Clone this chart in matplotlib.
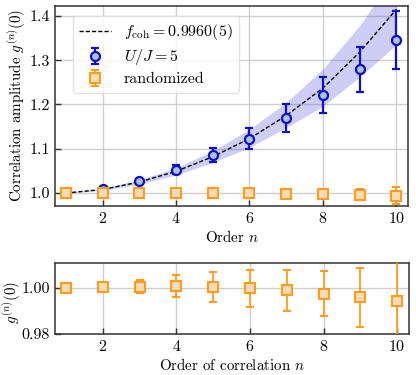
import matplotlib

matplotlib.use("Agg")
import matplotlib.pyplot as plt
import numpy as np

# correlation order
orders = np.arange(1, 11)

# U/J = 5 measurement
g_uj5 = [1.000, 1.009, 1.027, 1.053, 1.086, 1.123, 1.170, 1.222, 1.280, 1.346]
g_uj5_err = [0.000, 0.003, 0.004, 0.010, 0.016, 0.023, 0.031, 0.041, 0.051, 0.065]

# randomized data
g_rand = [1.0000, 1.0003, 1.0005, 1.0007, 1.0004, 0.9998, 0.9989, 0.9975, 0.9958, 0.9944]
g_rand_err = [0.0000, 0.0004, 0.0028, 0.0046, 0.0064, 0.0079, 0.0089, 0.0099, 0.0126, 0.0195]

# f_coh model curve and its uncertainty band
fit_line = [1.000, 1.008, 1.025, 1.049, 1.082, 1.123, 1.175, 1.237, 1.318, 1.415]
band_lo = [1.000, 1.006, 1.020, 1.041, 1.069, 1.103, 1.148, 1.196, 1.262, 1.335]
band_hi = [1.000, 1.010, 1.030, 1.057, 1.095, 1.144, 1.205, 1.280, 1.378, 1.500]

x_ticks = [2, 4, 6, 8, 10]
top_yticks = [1.0, 1.1, 1.2, 1.3, 1.4]
bot_yticks = [0.98, 1.00]

plt.rcParams.update({
    "font.family": "serif",
    "font.serif": ["cmr10"],
    "mathtext.fontset": "cm",
    "axes.formatter.use_mathtext": True,
    "font.size": 11,
    "axes.labelsize": 10.8,
    "xtick.labelsize": 11.5,
    "ytick.labelsize": 11.5,
    "axes.edgecolor": "#333333",
    "axes.linewidth": 1.1,
})

BLUE = "#1010c8"
ORANGE = "#ff9c1a"

fig = plt.figure(figsize=(4.16, 3.75), dpi=100)
ax = fig.add_axes([0.132, 0.451, 0.849, 0.533])
ax2 = fig.add_axes([0.132, 0.109, 0.851, 0.190])

ax.fill_between(orders, band_lo, band_hi, color="#5a5ae0", alpha=0.3, lw=0, zorder=1)
ax.plot(orders, fit_line, "k--", lw=1.0, dashes=(3, 1.5), zorder=2,
        label=r"$f_{\rm coh} = 0.9960(5)$")
ax.errorbar(orders, g_uj5, yerr=g_uj5_err, fmt="o", ms=6.5, mfc="#a8c4e0", mec=BLUE,
            mew=1.6, color=BLUE, ecolor=BLUE, elinewidth=1.6, capsize=3, capthick=1.6,
            zorder=3, label=r"$U/J = 5$")
ax.errorbar(orders, g_rand, yerr=g_rand_err, fmt="s", ms=6.5, mfc="#fcdcb8", mec=ORANGE,
            mew=1.5, color=ORANGE, ecolor=ORANGE, elinewidth=1.3, capsize=3, capthick=1.3,
            zorder=4, label="randomized")

ax.set_xlim(0.7, 10.32)
ax.set_ylim(0.971, 1.4225)
ax.set_xticks(x_ticks)
ax.set_yticks(top_yticks)
ax.set_yticklabels([f"{v:.1f}" for v in top_yticks])
ax.set_xlabel(r"Order $n$", labelpad=2)
ax.set_ylabel(r"Correlation amplitude $g^{(n)}(0)$")
ax.yaxis.set_label_coords(-0.077, 0.5)
ax.grid(True, color="#cfcfcf", lw=1.0, zorder=0)
ax.set_axisbelow(True)
ax.tick_params(direction="in", length=4, width=1, color="#333333")

leg = ax.legend(loc="upper left", bbox_to_anchor=(0.051, 0.95), borderaxespad=0,
                fontsize=11.5, frameon=True, fancybox=True, framealpha=0.8,
                edgecolor="#dddddd", handlelength=2.0, handletextpad=0.8,
                borderpad=0.4, labelspacing=0.3)

ax2.errorbar(orders, g_rand, yerr=g_rand_err, fmt="s", ms=6.5, mfc="#fcdcb8", mec=ORANGE,
             mew=1.5, color=ORANGE, ecolor=ORANGE, elinewidth=1.3, capsize=3, capthick=1.3,
             zorder=4)
ax2.set_xlim(0.7, 10.32)
ax2.set_ylim(0.98, 1.0107)
ax2.set_xticks(x_ticks)
ax2.set_yticks(bot_yticks)
ax2.set_yticklabels([f"{v:.2f}" for v in bot_yticks])
ax2.set_xlabel(r"Order of correlation $n$", labelpad=2)
ax2.set_ylabel(r"$g^{(n)}(0)$")
ax2.yaxis.set_label_coords(-0.09, 0.45)
ax2.grid(True, color="#cfcfcf", lw=1.0, zorder=0)
ax2.set_axisbelow(True)
ax2.tick_params(direction="in", length=4, width=1, color="#333333")

fig.savefig("out.png", dpi=100)
plt.close(fig)
